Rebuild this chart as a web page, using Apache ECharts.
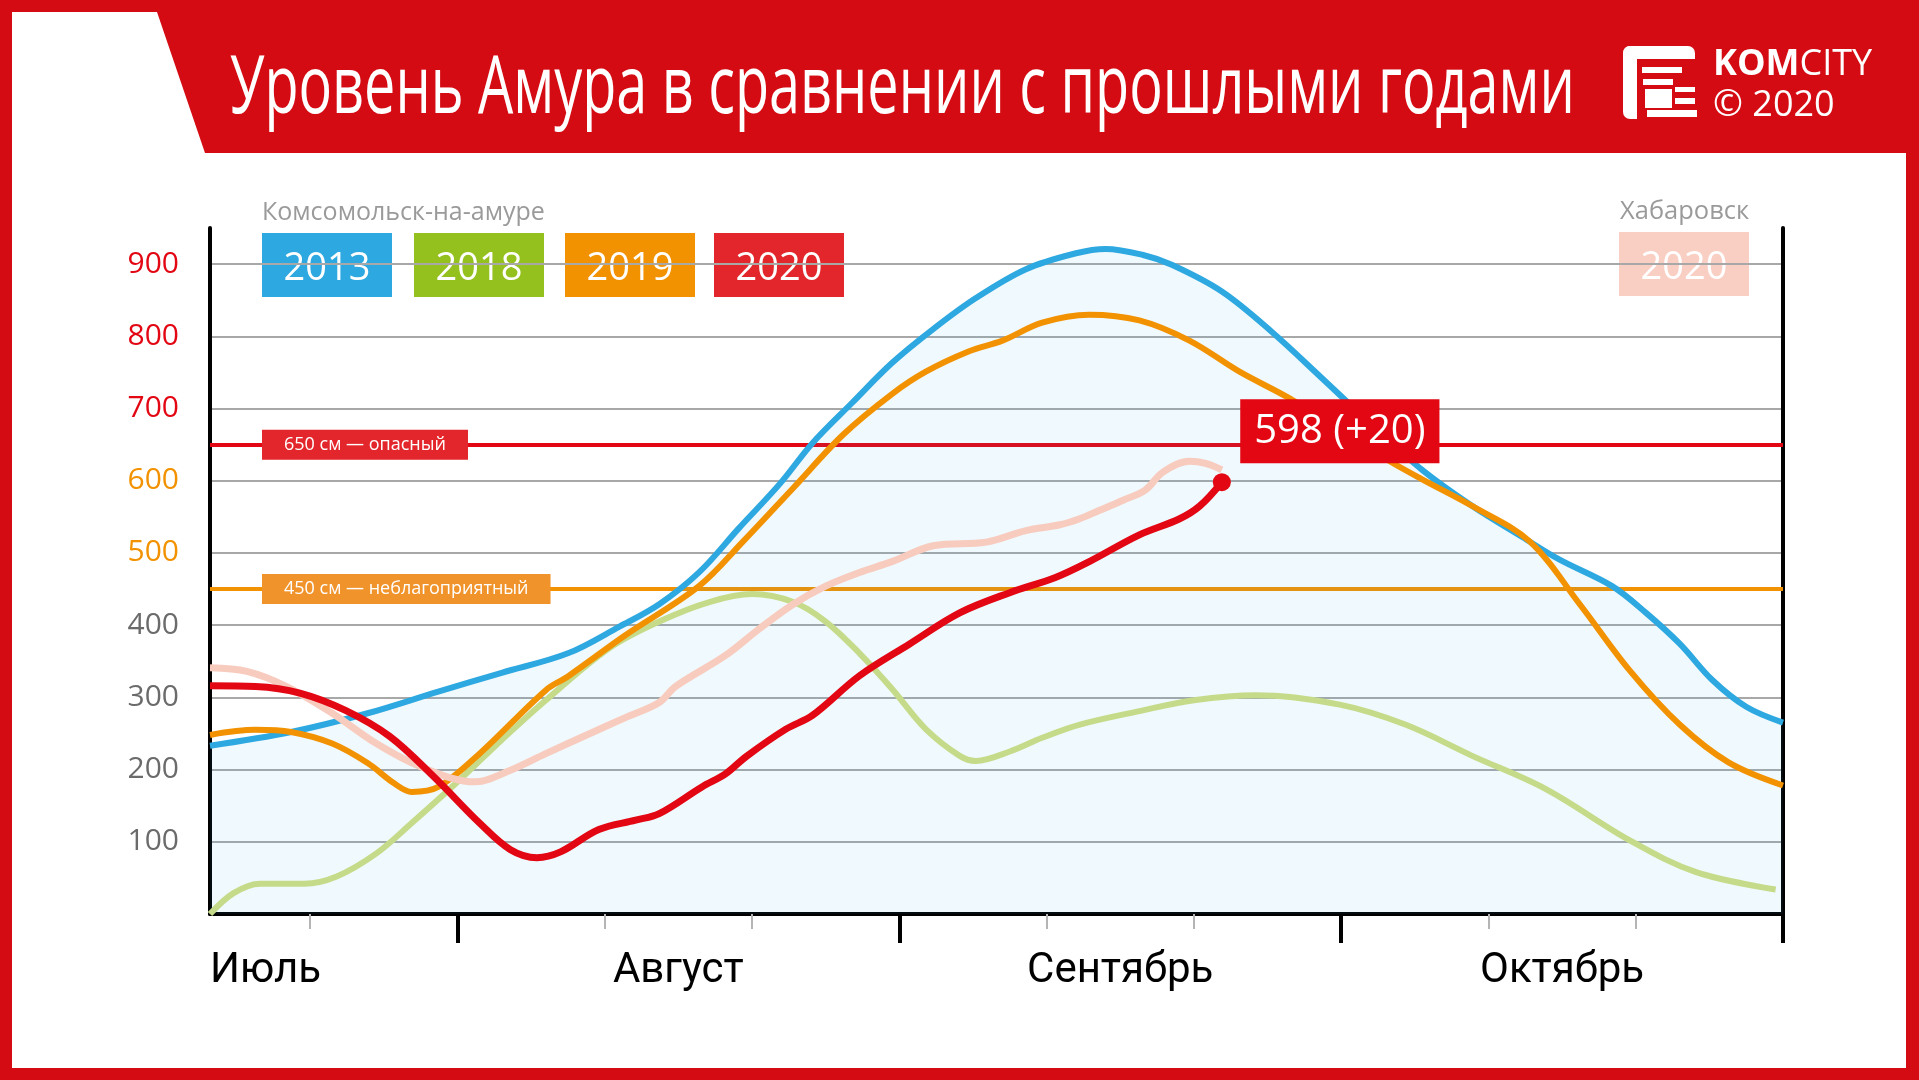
<!DOCTYPE html>
<html>
<head>
<meta charset="utf-8">
<title>Уровень Амура в сравнении с прошлыми годами</title>
<script src="https://cdn.jsdelivr.net/npm/echarts@6/dist/echarts.min.js"></script>
<style>
	html, body { margin:0; padding:0; background:#fff; overflow:hidden; }
	#chart { width:1919px; height:1080px; }
</style>
</head>
<body>
<div id="chart"></div>
<script>
// ось X в днях: 30 = 1 августа, 60 = 1 сентября, 90 = 1 октября, 120 = 1 ноября
var monthNames    = ['Июль', 'Август', 'Сентябрь', 'Октябрь'];
var monthLabelPos = [13.2, 45, 75, 105];
var monthTicks    = [30, 60, 90, 120];
var decadeTicks   = [20, 40, 50, 70, 80, 100, 110];

// Комсомольск-на-Амуре, 2013
var days2013  = [13.2, 18.7, 23.9, 28.7, 33.0, 37.5, 41.0, 43.7, 46.4, 49.1, 51.9, 54.1, 56.8, 59.5, 62.3, 65.2, 68.6, 72.0, 74.0, 76.5, 78.5, 81.9, 85.3, 88.7, 92.1, 95.5, 98.9, 102.3, 104.8, 108.4, 110.7, 113.0, 115.2, 117.5, 120];
var level2013 = [233, 252, 278, 308, 334, 361, 398, 429, 473, 534, 596, 652, 708, 763, 810, 853, 893, 915, 921, 913, 899, 862, 806, 742, 677, 615, 565, 522, 491, 454, 417, 374, 324, 287, 265];

// 2018
var days2018  = [13.2, 14.8, 16.6, 19.6, 21.8, 24.5, 26.9, 29.9, 33.0, 36.0, 40.3, 43.7, 47.1, 50.0, 52.8, 55.0, 57.3, 59.5, 61.8, 64.1, 65.2, 67.5, 69.7, 72.2, 76.3, 80.0, 84.2, 89.9, 94.4, 98.9, 103.9, 109.6, 114.1, 119.5];
var level2018 = [0, 29, 42, 42, 52, 84, 126, 181, 241, 296, 368, 405, 432, 443, 432, 405, 361, 312, 256, 219, 212, 225, 244, 262, 281, 296, 303, 290, 262, 219, 173, 102, 58, 34];

// 2019
var days2019  = [13.2, 16.3, 18.7, 21.5, 23.9, 25.7, 26.9, 28.7, 31.5, 36.0, 37.5, 41.4, 46.4, 49.4, 52.8, 56.2, 59.5, 61.8, 64.7, 67.0, 69.7, 72.9, 76.3, 79.7, 83.1, 86.5, 89.9, 93.3, 95.5, 98.9, 102.8, 106.2, 109.6, 113.0, 116.3, 120];
var level2019 = [248, 255, 252, 236, 209, 181, 169, 176, 222, 310, 329, 386, 454, 516, 590, 664, 720, 751, 779, 794, 819, 830, 822, 794, 751, 714, 670, 627, 602, 565, 516, 429, 337, 262, 210, 178];

// 2020
var days2020  = [13.2, 16.3, 19.3, 22.4, 25.4, 28.4, 31.5, 33.6, 35.4, 37.0, 39.6, 42.1, 43.7, 46.6, 48.2, 49.6, 52.3, 54.1, 57.3, 60.7, 64.1, 67.5, 70.6, 72.9, 76.3, 79.0, 80.4, 81.9];
var level2020 = [316, 315, 306, 282, 246, 190, 126, 89, 78, 86, 117, 130, 139, 176, 194, 218, 256, 275, 330, 374, 417, 445, 466, 488, 525, 547, 565, 598];

// Хабаровск, 2020
var daysKhab  = [13.2, 15.7, 18.4, 21.5, 24.5, 27.5, 31.2, 33.6, 36.0, 39.0, 41.4, 43.7, 44.8, 48.2, 50.5, 52.8, 55.0, 57.3, 59.5, 62.3, 65.9, 68.6, 70.9, 72.2, 73.6, 75.2, 76.7, 77.9, 79.7, 80.8, 81.9];
var levelKhab = [341, 336, 315, 278, 236, 204, 183, 199, 222, 250, 272, 293, 315, 358, 395, 429, 454, 473, 488, 510, 515, 531, 539, 547, 559, 573, 587, 612, 627, 624, 615];

var dangerLevel = 650;
var unfavLevel  = 450;
var dailyChange = 20;

var RED = '#d40b13';
var FONT = '"Open Sans", "Noto Sans", sans-serif';

function pairs(xs, ys){
	return xs.map(function(x, i){ return [x, ys[i]]; });
}

var lastDay   = days2020[days2020.length - 1];
var lastLevel = level2020[level2020.length - 1];

// легенда
var legendItems = [
	{ text:'2013', color:'#2ea8e0', x:262, y:233 },
	{ text:'2018', color:'#95c11f', x:414, y:233 },
	{ text:'2019', color:'#f39200', x:565, y:233 },
	{ text:'2020', color:'#e3262b', x:714, y:233 },
	{ text:'2020', color:'#f9cfc4', x:1619, y:232 }
];

var graphics = [
	// красная рамка и шапка
	{ type:'rect', shape:{ x:0, y:0, width:1919, height:12 }, style:{ fill:RED } },
	{ type:'rect', shape:{ x:0, y:0, width:12, height:1080 }, style:{ fill:RED } },
	{ type:'rect', shape:{ x:1906, y:0, width:13, height:1080 }, style:{ fill:RED } },
	{ type:'rect', shape:{ x:0, y:1068, width:1919, height:12 }, style:{ fill:RED } },
	{ type:'polygon', shape:{ points:[[157,12],[1919,12],[1919,153],[205,153]] }, style:{ fill:RED } },
	{ type:'text', x:230, y:90, scaleX:0.697,
		style:{ text:'Уровень Амура в сравнении с прошлыми годами', fill:'#fff', fontSize:80, fontFamily:FONT, verticalAlign:'middle' } },
	// логотип
	{ type:'rect', shape:{ x:1623, y:46, width:14, height:73, r:[7,0,0,7] }, style:{ fill:'#fff' } },
	{ type:'rect', shape:{ x:1623, y:46, width:72, height:13, r:[7,7,0,0] }, style:{ fill:'#fff' } },
	{ type:'rect', shape:{ x:1642, y:67, width:40, height:6 }, style:{ fill:'#fff' } },
	{ type:'rect', shape:{ x:1643, y:79, width:30, height:6 }, style:{ fill:'#fff' } },
	{ type:'rect', shape:{ x:1645, y:89, width:27, height:19 }, style:{ fill:'#fff' } },
	{ type:'rect', shape:{ x:1675, y:87, width:20, height:5 }, style:{ fill:'#fff' } },
	{ type:'rect', shape:{ x:1675, y:98, width:20, height:6 }, style:{ fill:'#fff' } },
	{ type:'rect', shape:{ x:1647, y:110, width:50, height:7 }, style:{ fill:'#fff' } },
	{ type:'text', x:1713, y:65,
		style:{ text:'{b|KOM}{n|CITY}', verticalAlign:'middle',
			rich:{ b:{ fill:'#fff', fontSize:36, fontWeight:'bold', fontFamily:FONT }, n:{ fill:'#fff', fontSize:36, fontFamily:FONT } } } },
	{ type:'text', x:1713, y:106, style:{ text:'© 2020', fill:'#fff', fontSize:36, fontFamily:FONT, verticalAlign:'middle' } },
	// подписи городов
	{ type:'text', x:262, y:213, style:{ text:'Комсомольск-на-амуре', fill:'#9a9a9a', fontSize:25, fontFamily:FONT, verticalAlign:'middle' } },
	{ type:'text', x:1620, y:212, style:{ text:'Хабаровск', fill:'#9a9a9a', fontSize:25.5, fontFamily:FONT, verticalAlign:'middle' } }
];

legendItems.forEach(function(it){
	graphics.push({ type:'rect', shape:{ x:it.x, y:it.y, width:130, height:64 }, style:{ fill:it.color } });
	graphics.push({ type:'text', x:it.x + 65, y:it.y + 36,
		style:{ text:it.text, fill:'#fff', fontSize:38, fontFamily:FONT, align:'center', verticalAlign:'middle' } });
});

var chart = echarts.init(document.getElementById('chart'));
var option = {
	backgroundColor: '#fff',
	animation: false,
	grid: { left:210, right:136, top:228, bottom:166 },
	xAxis: [
		{
			type: 'value', min: 13.2, max: 120, position: 'bottom',
			axisLine: { show:true, onZero:false, lineStyle:{ color:'#000', width:4 } },
			axisTick: { show:true, customValues: monthTicks, length:29, lineStyle:{ color:'#000', width:4 } },
			axisLabel: {
				show: true, customValues: monthLabelPos, alignMinLabel: 'left',
				margin: 36, fontSize: 42, fontFamily: 'Roboto', color: '#000',
				formatter: function(v){ var i = monthLabelPos.indexOf(v); return i >= 0 ? monthNames[i] : ''; }
			},
			splitLine: { show:false }
		},
		{
			type: 'value', min: 13.2, max: 120, position: 'bottom',
			axisLine: { show:false },
			axisTick: { show:true, customValues: decadeTicks, length:15, lineStyle:{ color:'#b5b5b5', width:2 } },
			axisLabel: { show:false },
			splitLine: { show:false }
		}
	],
	yAxis: [
		{
			type: 'value', min: 0, max: 950, interval: 100,
			axisLine: { show:true, onZero:false, lineStyle:{ color:'#000', width:4 } },
			axisTick: { show:false },
			axisLabel: {
				showMinLabel: false, showMaxLabel: false, margin: 31,
				fontSize: 30, fontFamily: FONT,
				formatter: function(v){ return (v > 0 && v < 950) ? String(v) : ''; },
				color: function(v){ v = +v; return v >= 700 ? '#e30613' : (v >= 500 ? '#f39200' : '#6b6b6b'); }
			},
			splitLine: { show:true, showMinLine:false, showMaxLine:false, lineStyle:{ color:'#a8a8a8', width:2 } }
		},
		{
			type: 'value', min: 0, max: 950, position: 'right',
			axisLine: { show:true, onZero:false, lineStyle:{ color:'#000', width:4 } },
			axisTick: { show:false }, axisLabel: { show:false }, splitLine: { show:false }
		}
	],
	graphic: graphics,
	series: [
		{
			name: '2013', type: 'line', data: pairs(days2013, level2013),
			smooth: 0.35, symbol: 'none', z: 3,
			lineStyle: { color:'#2ea8e0', width:6 },
			areaStyle: { color:'rgba(46,168,224,0.1)' },
			markLine: {
				silent: true, symbol: 'none', z: 2,
				label: { show:true, position:'insideStart', distance:[52, 0], color:'#fff', fontSize:18, fontFamily:FONT, lineHeight:20, padding:[5, 22] },
				data: [
					{ yAxis: dangerLevel, lineStyle:{ color:'#e30613', width:4, type:'solid' },
						label:{ formatter: dangerLevel + ' см — опасный', backgroundColor:'#e3262b' } },
					{ yAxis: unfavLevel, lineStyle:{ color:'#f39200', width:4, type:'solid' },
						label:{ formatter: unfavLevel + ' см — неблагоприятный', backgroundColor:'#f0932a' } }
				]
			}
		},
		{
			name: '2018', type: 'line', data: pairs(days2018, level2018),
			smooth: 0.35, symbol: 'none', z: 3,
			lineStyle: { color:'#c5db8a', width:6 }
		},
		{
			name: '2019', type: 'line', data: pairs(days2019, level2019),
			smooth: 0.35, symbol: 'none', z: 3,
			lineStyle: { color:'#f39200', width:6 }
		},
		{
			name: 'Хабаровск 2020', type: 'line', data: pairs(daysKhab, levelKhab),
			smooth: 0.35, symbol: 'none', z: 3,
			lineStyle: { color:'#f8cbbf', width:7 }
		},
		{
			name: '2020', type: 'line', data: pairs(days2020, level2020),
			smooth: 0.35, symbol: 'none', z: 4,
			lineStyle: { color:'#e30613', width:7 },
			markPoint: {
				symbol: 'circle', symbolSize: 18,
				itemStyle: { color:'#e30613' },
				label: {
					show: true, position: 'inside', offset: [118, -51],
					formatter: lastLevel + ' (+' + dailyChange + ')',
					color: '#fff', backgroundColor: '#e30613', padding: [10, 14],
					fontSize: 40, lineHeight: 44, fontFamily: FONT
				},
				data: [ { coord: [lastDay, lastLevel] } ]
			}
		}
	]
};
chart.setOption(option);
</script>
</body>
</html>
